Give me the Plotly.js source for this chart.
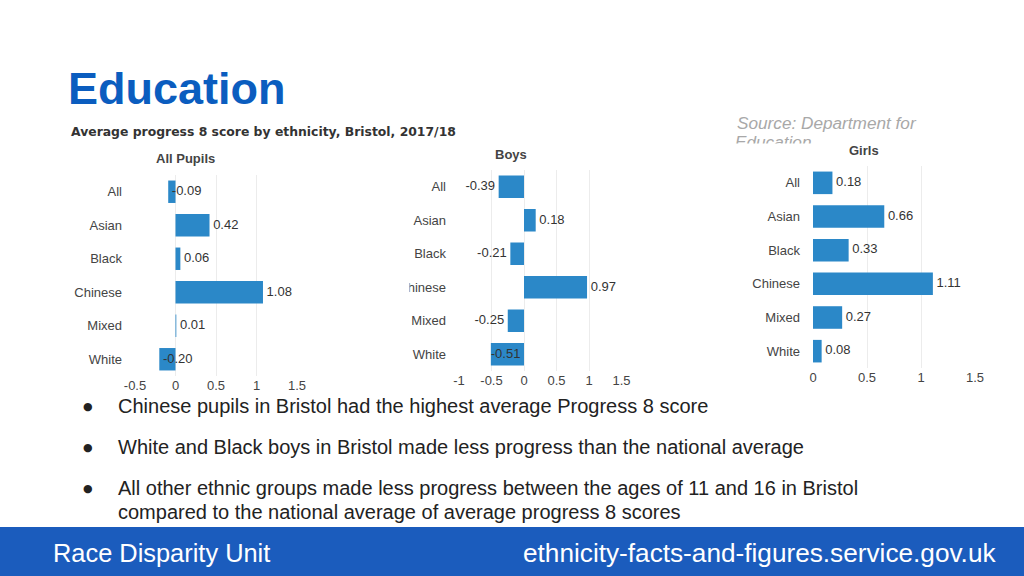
<!DOCTYPE html>
<html>
<head>
<meta charset="utf-8">
<script src="https://cdn.plot.ly/plotly-3.0.1.min.js"></script>
<style>
html,body{margin:0;padding:0;background:#fff;}
#chart{width:1024px;height:576px;}
</style>
</head>
<body>
<div id="chart"></div>
<script>
// ---- data ----
const categories = ['All', 'Asian', 'Black', 'Chinese', 'Mixed', 'White'];
const allPupils = [-0.09, 0.42, 0.06, 1.08, 0.01, -0.20];
const boys = [-0.39, 0.18, -0.21, 0.97, -0.25, -0.51];
const girls = [0.18, 0.66, 0.33, 1.11, 0.27, 0.08];
const panelTitles = ['All Pupils', 'Boys', 'Girls'];
const ticksAll = [-0.5, 0, 0.5, 1, 1.5];
const ticksBoys = [-1, -0.5, 0, 0.5, 1, 1.5];
const ticksGirls = [0, 0.5, 1, 1.5];
const sourceLines = ['Source: Department for', 'Education'];
const bulletLines = [
  'Chinese pupils in Bristol had the highest average Progress 8 score',
  'White and Black boys in Bristol made less progress than the national average',
  'All other ethnic groups made less progress between the ages of 11 and 16 in Bristol',
  'compared to the national average of average progress 8 scores'
];
const bulletMarks = [true, true, true, false];

// ---- helpers ----
const W = 1024, H = 576;
const px = v => v / W;
const py = v => 1 - v / H;
const BAR = '#2b88c8';
const NB = '\u00a0';
const FONT = 'Liberation Sans, Arial, Helvetica, sans-serif';

function barTrace(vals, xa, ya) {
  return {
    type: 'bar', orientation: 'h', x: vals, y: categories,
    xaxis: xa, yaxis: ya, marker: {color: BAR}, hoverinfo: 'x+y',
    showlegend: false
  };
}
function textTrace(vals, xa, ya, xs, pos) {
  return {
    type: 'scatter', mode: 'text', x: xs, y: categories,
    text: vals.map((v, i) => pos[i] === 'middle left' ? v.toFixed(2) + NB : NB + v.toFixed(2)),
    textposition: pos,
    textfont: {family: FONT, size: 13, color: '#333'},
    xaxis: xa, yaxis: ya, showlegend: false, hoverinfo: 'skip', cliponaxis: false
  };
}

// panel 1: labels start at the bar end
const t1 = textTrace(allPupils, 'x', 'y', allPupils, allPupils.map(() => 'middle right'));
// panel 2: negatives outside to the left, a wide enough negative bar labelled inside
const boysScale = 65; // px per unit on the Boys axis
const t2x = boys.map(v => (v < 0 && Math.abs(v) * boysScale > 30) ? 0 : v);
const t2p = boys.map(v => v < 0 ? 'middle left' : 'middle right');
const t2 = textTrace(boys, 'x2', 'y2', t2x, t2p);
const t3 = textTrace(girls, 'x3', 'y3', girls, girls.map(() => 'middle right'));

// clipped second line of the source note
const srcClip = {
  type: 'scatter', mode: 'text', x: [0], y: [-0.04], text: ['<i>' + sourceLines[1] + '</i>'],
  textposition: 'middle right', cliponaxis: true,
  textfont: {family: FONT, size: 17.2, color: '#a8a8a8'},
  xaxis: 'x4', yaxis: 'y4', showlegend: false, hoverinfo: 'skip'
};

const data = [
  barTrace(allPupils, 'x', 'y'), t1,
  barTrace(boys, 'x2', 'y2'), t2,
  barTrace(girls, 'x3', 'y3'), t3,
  srcClip
];

const tickFont = {family: FONT, size: 13, color: '#444'};
function xax(domain, range, ticks, anchor) {
  return {
    domain: domain, range: range, anchor: anchor, tickvals: ticks, ticktext: ticks.map(String),
    showgrid: true, gridcolor: '#ececec', gridwidth: 1, zeroline: false,
    showline: false, ticks: '', tickfont: tickFont, fixedrange: true
  };
}
function yax(domain, anchor) {
  return {
    domain: domain, anchor: anchor, autorange: 'reversed', type: 'category',
    showgrid: false, zeroline: false, showline: false, ticks: '',
    tickfont: tickFont, ticklabelstandoff: 12, fixedrange: true
  };
}

const d1x = [px(135), px(297)], d1y = [py(376), py(175)];
const d2x = [px(459), px(621.5)], d2y = [py(371), py(170)];
const d3x = [px(813), px(975)], d3y = [py(368), py(166)];

const annotations = [
  {text: '<b>Education</b>', x: px(66), y: py(89), xanchor: 'left', yanchor: 'middle',
   font: {family: FONT, size: 45, color: '#0b5dbf'}},
  {text: '<b>Average progress 8 score by ethnicity, Bristol, 2017/18</b>', x: px(68.5), y: py(131),
   xanchor: 'left', yanchor: 'middle', font: {family: 'DejaVu Sans, sans-serif', size: 12.4, color: '#333'}},
  {text: '<i>' + sourceLines[0] + '</i>', x: px(735), y: py(123), xanchor: 'left', yanchor: 'middle',
   font: {family: FONT, size: 17.2, color: '#a8a8a8'}},
  {text: '<b>' + panelTitles[0] + '</b>', x: px(185), y: py(158), xanchor: 'center', yanchor: 'middle',
   font: {family: FONT, size: 13, color: '#444'}},
  {text: '<b>' + panelTitles[1] + '</b>', x: px(511), y: py(154), xanchor: 'center', yanchor: 'middle',
   font: {family: FONT, size: 13, color: '#444'}},
  {text: '<b>' + panelTitles[2] + '</b>', x: px(864), y: py(150), xanchor: 'center', yanchor: 'middle',
   font: {family: FONT, size: 13, color: '#444'}},
  {text: 'Race Disparity Unit', x: px(51), y: py(553), xanchor: 'left', yanchor: 'middle',
   font: {family: FONT, size: 25.4, color: '#ffffff'}},
  {text: 'ethnicity-facts-and-figures.service.gov.uk', x: px(998), y: py(553), xanchor: 'right', yanchor: 'middle',
   font: {family: FONT, size: 26.2, color: '#ffffff'}}
];
const lineY = [406, 447, 488, 512];
bulletLines.forEach((b, i) => {
  if (bulletMarks[i]) {
    annotations.push({text: '●', x: px(88), y: py(lineY[i]), xanchor: 'center', yanchor: 'middle',
      font: {family: 'DejaVu Sans, sans-serif', size: 11, color: '#222'}});
  }
  annotations.push({text: b, x: px(116), y: py(lineY[i]), xanchor: 'left', yanchor: 'middle', align: 'left',
    font: {family: FONT, size: 20, color: '#222'}});
});
annotations.forEach(a => { a.xref = 'paper'; a.yref = 'paper'; a.showarrow = false; });

const hidden = (domain, anchor) => ({domain: domain, anchor: anchor, range: [0, 1], visible: false, fixedrange: true});

const layout = {
  width: W, height: H, margin: {l: 0, r: 0, t: 0, b: 0},
  paper_bgcolor: '#ffffff', plot_bgcolor: 'rgba(0,0,0,0)',
  bargap: 0.33, showlegend: false,
  xaxis: xax(d1x, [-0.5, 1.5], ticksAll, 'y'), yaxis: yax(d1y, 'x'),
  xaxis2: xax(d2x, [-1, 1.5], ticksBoys, 'y2'), yaxis2: yax(d2y, 'x2'),
  xaxis3: xax(d3x, [0, 1.5], ticksGirls, 'y3'), yaxis3: yax(d3y, 'x3'),
  xaxis4: hidden([px(735), px(1000)], 'y4'), yaxis4: hidden([py(143.5), py(130)], 'x4'),
  annotations: annotations,
  shapes: [
    {type: 'rect', xref: 'paper', yref: 'paper', x0: 0, x1: 1, y0: 0, y1: py(527),
     fillcolor: '#1b5cbd', line: {width: 0}, layer: 'below'},
    {type: 'rect', xref: 'paper', yref: 'paper', x0: px(392), x1: px(409.5), y0: py(300), y1: py(275),
     fillcolor: '#ffffff', line: {width: 0}, layer: 'above'}
  ]
};

Plotly.newPlot('chart', data, layout, {displayModeBar: false, staticPlot: true});
</script>
</body>
</html>
